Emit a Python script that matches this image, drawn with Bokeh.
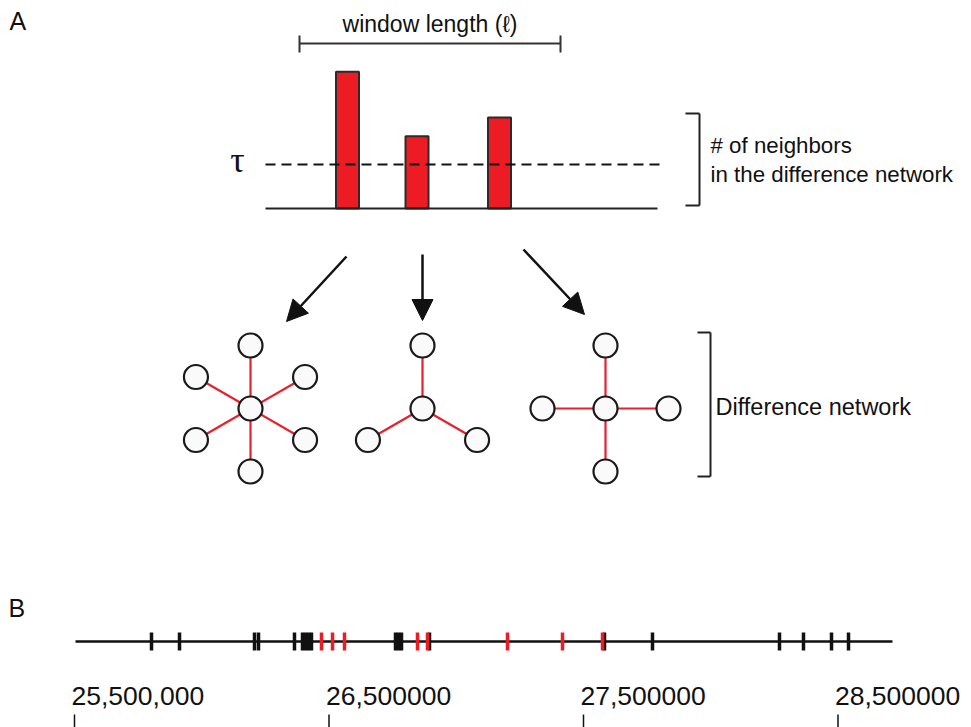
import math
from bokeh.plotting import figure
from bokeh.models import Range1d, Arrow, NormalHead
from bokeh.core.properties import value
from bokeh.embed import file_html
from bokeh.resources import INLINE

# ---------------- data ----------------
bar_heights = [3.11, 1.64, 2.07]        # neighbours in the difference network (units of tau)
tau = 1.0
network_degrees = [6, 3, 4]

black_sites = [25_802_600, 25_912_600, 26_207_300, 26_223_000, 26_364_400,
               26_395_900, 26_407_700, 26_419_400, 26_431_200,
               26_761_300, 26_773_100, 26_784_900, 26_894_900,
               27_582_500, 27_771_100, 28_270_100, 28_364_400,
               28_474_500, 28_541_300]
red_sites = [26_470_500, 26_513_800, 26_560_900, 26_847_700, 26_887_000,
             27_201_400, 27_417_500, 27_574_700]
region = [25_503_900, 28_714_100]

tick_values = [25_500_000, 26_500_000, 27_500_000, 28_500_000]
tick_labels = ["25,500,000", "26,500000", "27,500000", "28,500000"]

# ---------------- layout / style ----------------
RED = "#ed1c24"
EDGE_RED = "#e8202e"
DARK = "#222222"
FONT = value("Liberation Sans")

bar_x = [347, 416.5, 499]
net_cx = [250, 422, 605]
net_cy = 408
edge_len = 63

p = figure(width=971, height=727, x_range=Range1d(0, 971), y_range=Range1d(727, 0),
           output_backend="svg", toolbar_location=None, min_border=0,
           x_axis_location=None, y_axis_location=None)
p.grid.visible = False
p.outline_line_color = None
p.background_fill_color = "white"

p.extra_x_ranges = {"genome": Range1d(25_209_234, 29_024_558)}
p.extra_y_ranges = {"bars": Range1d(-11.795, 4.727)}

# panel letters
p.text(x=[9, 8], y=[20, 607], text=["A", "B"], text_font=FONT,
       text_font_size=value("25px"), text_color="#111111", text_baseline="alphabetic")

# window length bracket
p.segment(x0=[299, 299, 560], y0=[43, 35, 35], x1=[560, 299, 560], y1=[43, 52, 52],
          line_color="#333333", line_width=2)
p.text(x=[429.5], y=[23], text=["window length (\u2113)"], text_font=FONT,
       text_font_size=value("23px"), text_color="#111111", text_align="center",
       text_baseline="alphabetic")

# bars
p.vbar(x=bar_x, width=23, top=bar_heights, bottom=0, y_range_name="bars",
       fill_color=RED, line_color="#2b2b2b", line_width=2)
# baseline + tau line
p.segment(x0=[265], y0=[0], x1=[657], y1=[0], y_range_name="bars",
          line_color="#222222", line_width=2)
p.segment(x0=[265], y0=[tau], x1=[662], y1=[tau], y_range_name="bars",
          line_color="#111111", line_width=2, line_dash="10 6")
p.text(x=[237], y=[tau], text=["\u03c4"], y_range_name="bars", y_offset=-4,
       text_font=value("Liberation Serif"), text_font_size=value("36px"),
       text_color="#111111", text_align="center", text_baseline="middle")

# right bracket for bars
p.segment(x0=[685, 699, 685], y0=[113, 113, 205], x1=[699, 699, 699], y1=[113, 205, 205],
          line_color=DARK, line_width=2)
p.text(x=[710, 710], y=[145, 174], text=["# of neighbors", "in the difference network"],
       text_font=FONT, text_font_size=value("22.3px"), text_color="#111111",
       text_baseline="alphabetic")

# arrows
for (xs, ys, xe, ye) in [(346, 256, 286, 321), (422, 254, 422, 320), (523, 249, 584, 314)]:
    p.add_layout(Arrow(end=NormalHead(size=21, fill_color="#111111", line_color="#111111",
                                      line_width=1),
                       x_start=xs, y_start=ys, x_end=xe, y_end=ye,
                       line_color="#111111", line_width=2.5))

# difference networks
ex0, ey0, ex1, ey1, nx, ny = [], [], [], [], [], []
for cx, deg in zip(net_cx, network_degrees):
    nx.append(cx)
    ny.append(net_cy)
    for k in range(deg):
        a = math.radians(90 + k * 360.0 / deg)
        ox = cx + edge_len * math.cos(a)
        oy = net_cy - edge_len * math.sin(a)
        ex0.append(cx); ey0.append(net_cy); ex1.append(ox); ey1.append(oy)
        nx.append(ox); ny.append(oy)
p.segment(x0=ex0, y0=ey0, x1=ex1, y1=ey1, line_color=EDGE_RED, line_width=2.2)
p.scatter(x=nx, y=ny, marker="circle", size=24, fill_color="#fafafa",
          line_color="#1a1a1a", line_width=2.2)

# right bracket for networks
p.segment(x0=[697, 710, 697], y0=[332, 332, 476], x1=[710, 710, 710], y1=[332, 476, 476],
          line_color=DARK, line_width=2)
p.text(x=[715], y=[406], text=["Difference network"], text_font=FONT,
       text_font_size=value("23.5px"), text_color="#111111", text_baseline="alphabetic")

# panel B: genomic track
p.segment(x0=[region[0]], y0=[641], x1=[region[1]], y1=[641], x_range_name="genome",
          line_color="#111111", line_width=2.5)
p.segment(x0=black_sites, y0=[632] * len(black_sites), x1=black_sites,
          y1=[650] * len(black_sites), x_range_name="genome",
          line_color="#111111", line_width=3.5)
p.segment(x0=red_sites, y0=[632] * len(red_sites), x1=red_sites,
          y1=[650] * len(red_sites), x_range_name="genome",
          line_color=RED, line_width=3.5)

# coordinate ticks and labels
p.segment(x0=tick_values, y0=[714] * len(tick_values), x1=tick_values,
          y1=[727] * len(tick_values), x_range_name="genome",
          line_color="#111111", line_width=1.5)
p.text(x=tick_values, y=[695] * len(tick_values), text=tick_labels,
       x_range_name="genome", x_offset=-3, text_font=FONT,
       text_font_size=value("26.5px"), text_color="#111111", text_baseline="alphabetic")

open("out.html", "w").write(file_html(p, INLINE))
